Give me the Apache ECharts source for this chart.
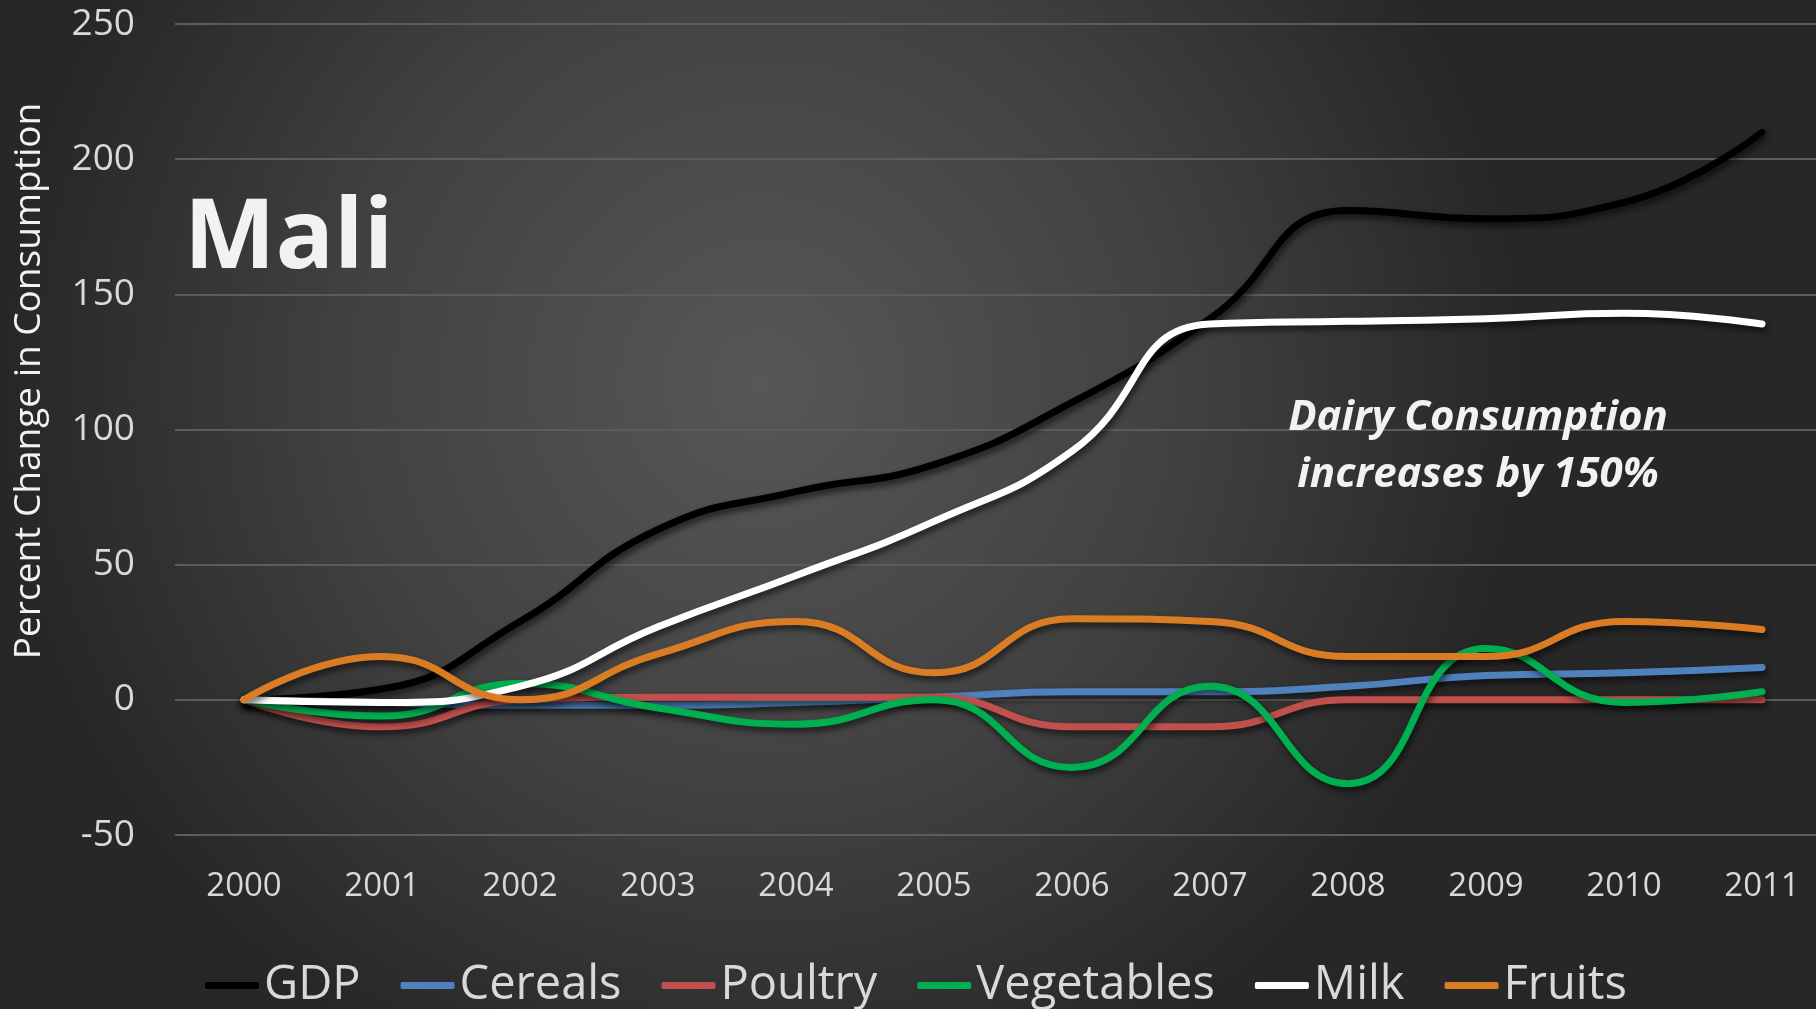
<!DOCTYPE html>
<html>
<head>
<meta charset="utf-8">
<script src="https://cdn.jsdelivr.net/npm/echarts@6/dist/echarts.min.js"></script>
<style>
html,body{margin:0;padding:0;width:1816px;height:1009px;overflow:hidden;background:#2b2b2b;}
#chart{width:1816px;height:1009px;}
</style>
</head>
<body>
<div id="chart"></div>
<script>
const years = ['2000','2001','2002','2003','2004','2005','2006','2007','2008','2009','2010','2011'];
const gdp        = [0, 4, 29, 63, 77, 87, 110, 141, 181, 178, 184, 210];
const cereals    = [0, -1, -2, -2, -1, 1, 3, 3, 5, 9, 10, 12];
const poultry    = [0, -10, 0, 1, 1, 1, -10, -10, 0, 0, 0, 0];
const vegetables = [0, -6, 6, -3, -9, 0, -25, 5, -31, 19, -1, 3];
const milk       = [0, -1, 5, 27, 46, 66, 92, 139, 140, 141, 143, 139];
const fruits     = [0, 16, 0, 17, 29, 10, 30, 29, 16, 16, 29, 26];
const seriesNames = ['GDP','Cereals','Poultry','Vegetables','Milk','Fruits'];
const seriesData = [gdp, cereals, poultry, vegetables, milk, fruits];
const seriesColors = ['#000000','#4f81bd','#c0504d','#00b050','#ffffff','#d97c24'];
const yTicks = {min: -50, max: 250, interval: 50};

const FONT = '"Open Sans", "Noto Sans", sans-serif';
const chart = echarts.init(document.getElementById('chart'));
chart.setOption({
  backgroundColor: {
    type: 'radial', x: 0.42, y: 0.38, r: 0.75,
    colorStops: [{offset: 0, color: '#575757'}, {offset: 0.55, color: '#414141'}, {offset: 1, color: '#272727'}]
  },
  animation: false,
  textStyle: {fontFamily: FONT},
  grid: {left: 175, right: -15, top: 24, bottom: 174, containLabel: false, outerBoundsMode: 'none'},
  xAxis: {
    type: 'category', data: years, boundaryGap: true,
    axisLine: {show: false}, axisTick: {show: false},
    axisLabel: {color: '#d9d9d9', fontSize: 33, margin: 35, fontFamily: FONT}
  },
  yAxis: {
    type: 'value', min: yTicks.min, max: yTicks.max, interval: yTicks.interval,
    axisLine: {show: false}, axisTick: {show: false},
    axisLabel: {color: '#d9d9d9', fontSize: 37, margin: 40, fontFamily: FONT},
    splitLine: {lineStyle: {color: '#5c5c5c', width: 2}}
  },
  legend: {
    left: 200, top: 957, icon: 'roundRect', itemWidth: 54, itemHeight: 7, itemGap: 40,
    textStyle: {color: '#d9d9d9', fontSize: 47, fontFamily: FONT},
    data: seriesNames
  },
  graphic: [
    {type: 'text', x: 29, y: 381, rotation: Math.PI / 2, z: 100,
     style: {text: 'Percent Change in Consumption', fill: '#f2f2f2', align: 'center', verticalAlign: 'middle',
             font: '37px ' + FONT}},
    {type: 'text', left: 184, top: 192, z: 100,
     style: {text: 'Mali', fill: '#f2f2f2', font: 'bold 97px ' + FONT,
             shadowColor: 'rgba(0,0,0,0.75)', shadowBlur: 6, shadowOffsetX: 3, shadowOffsetY: 3}},
    {type: 'text', x: 1478, y: 390, z: 100,
     style: {text: 'Dairy Consumption\nincreases by 150%', fill: '#f2f2f2', align: 'center',
             font: 'italic bold 42px ' + FONT, lineHeight: 57,
             shadowColor: 'rgba(0,0,0,0.6)', shadowBlur: 4, shadowOffsetX: 2, shadowOffsetY: 2}}
  ],
  series: seriesNames.map((n, i) => ({
    name: n, type: 'line', data: seriesData[i], smooth: 0.5, symbol: 'none',
    color: seriesColors[i],
    lineStyle: {width: 7, color: seriesColors[i], cap: 'round',
                shadowColor: 'rgba(0,0,0,0.6)', shadowBlur: 6, shadowOffsetX: 2, shadowOffsetY: 4},
    z: [2, 3, 4, 5, 6, 7][i]
  }))
});
</script>
</body>
</html>
